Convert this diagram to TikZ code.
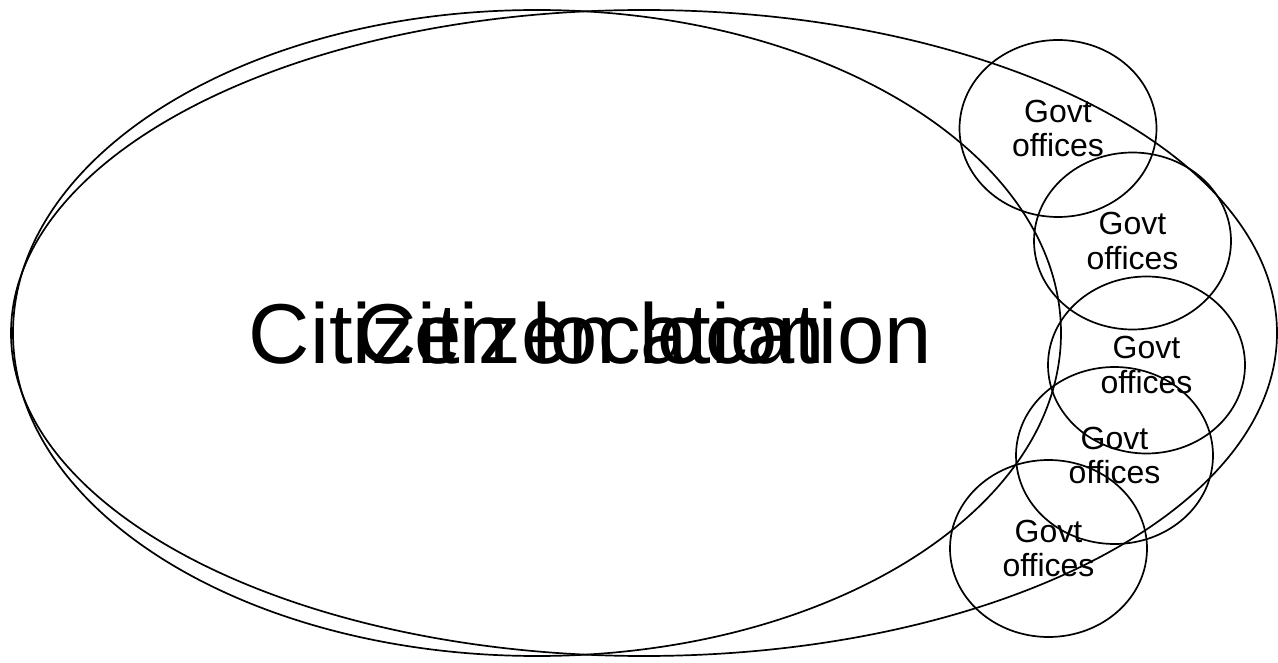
\documentclass[tikz,border=0pt]{standalone}
\usepackage{fontspec}
\setmainfont{Liberation Sans}
\usetikzlibrary{shapes.geometric}
\begin{document}
\begin{tikzpicture}[x=1pt,y=-1pt,
  region/.style={draw, ellipse, line width=1.7pt, inner sep=0pt,
    minimum height=646pt, font=\fontsize{85}{90}\selectfont},
  office/.style={draw, ellipse, line width=1.7pt, inner sep=0pt,
    minimum width=197pt, minimum height=177pt, align=center,
    font=\fontsize{32}{34.5}\selectfont}]
\useasboundingbox (0,0) rectangle (1278,663);
\node[region, minimum width=1048pt] (cit1) at (537,333) {Citizen location};
\node[region, minimum width=1266pt] (cit2) at (644,333) {Citizen location};
\node[office] (g1) at (1058,128.5) {Govt\\offices};
\node[office] (g2) at (1132.5,241) {Govt\\offices};
\node[office] (g3) at (1146.5,365) {Govt\\offices};
\node[office] (g4) at (1114.5,455.5) {Govt\\offices};
\node[office] (g5) at (1048.5,548.5) {Govt\\offices};
\end{tikzpicture}
\end{document}
